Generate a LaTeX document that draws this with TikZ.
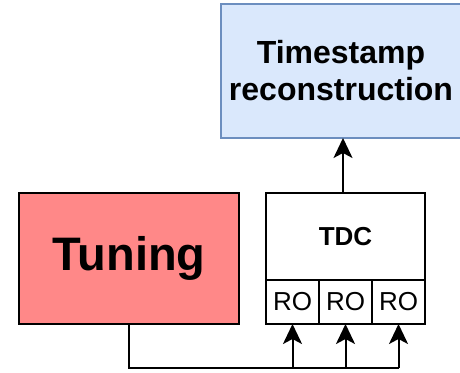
\documentclass[tikz,border=0pt]{standalone}
\usepackage{fontspec}
\setmainfont{Liberation Sans}
\usepackage{tikz}
\usetikzlibrary{arrows.meta, positioning}

\definecolor{tuningred}{HTML}{FF8888}
\definecolor{tsfill}{HTML}{DAE8FC}
\definecolor{tsdraw}{HTML}{6C8EBF}

\begin{document}
\begin{tikzpicture}[x=1pt, y=1pt, line width=2pt, every node/.style={align=center, outer sep=0pt, inner sep=0pt},
  >={Stealth[length=20pt, width=19pt, inset=5pt]}]
\useasboundingbox (0,0) rectangle (460,372);
\node (tuning)  [draw, fill=tuningred, minimum width=220pt, minimum height=131pt, font=\fontsize{47}{50}\selectfont\bfseries] at (129,113.5) {Tuning};
\node (tdc)     [draw, minimum width=159pt, minimum height=87pt, font=\fontsize{26}{28}\selectfont\bfseries, anchor=north west] at (266,179) {TDC};
\node (ro2)     [draw, minimum width=53pt, minimum height=44pt, font=\fontsize{26}{28}\selectfont, below=0pt of tdc] {RO};
\node (ro1)     [draw, minimum width=53pt, minimum height=44pt, font=\fontsize{26}{28}\selectfont, left=0pt of ro2] {RO};
\node (ro3)     [draw, minimum width=53pt, minimum height=44pt, font=\fontsize{26}{28}\selectfont, right=0pt of ro2] {RO};
\node (recon)   [draw=tsdraw, fill=tsfill, minimum width=240pt, minimum height=134pt, font=\fontsize{32}{37}\selectfont\bfseries] at (341,301) {Timestamp\\reconstruction};
\coordinate (bus) at ([yshift=-44pt]ro3.south);
\draw (tuning.south) |- (bus);
\draw[->] (ro1 |- bus) -- (ro1.south);
\draw[->] (ro2 |- bus) -- (ro2.south);
\draw[->] (bus) -- (ro3.south);
\draw[->] ([xshift=-2.5pt]tdc.north) -- ([xshift=-2.5pt]tdc.north |- recon.south);
\end{tikzpicture}
\end{document}
